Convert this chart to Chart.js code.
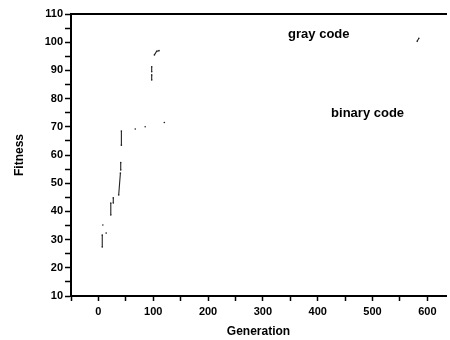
<!DOCTYPE html>
<html>
<head>
<meta charset="utf-8">
<script src="https://cdn.jsdelivr.net/npm/chart.js@4.4.1/dist/chart.umd.min.js"></script>
<style>
  html, body { margin:0; padding:0; background:#fff; }
  #wrap { width:450px; height:340px; }
</style>
</head>
<body>
<div id="wrap"><canvas id="chart" width="450" height="340"></canvas></div>
<script>
// fitness vs generation (null = gap between visible fragments)
const binaryGen = [7, 7, null, 8.1, null, 14.1, null, 22.6, 22.6, null, 27.1, 27.1, null, 37, 40.1, null, 40.7, 40.7, null, 41.9, 41.9, null, 67.2, null, 85.3, null, 120.2];
const binaryFit = [27.4, 31.6, null, 35.2, null, 32.3, null, 38.7, 43.0, null, 43.0, 44.8, null, 45.8, 53.6, null, 54.7, 57.3, null, 63.5, 68.5, null, 69.2, null, 70.0, null, 71.5];
const grayGen = [97.2, 97.2, null, 97.2, 97.2, null, 102.1, 106.3, 110.6, null, 581.4, 584.5];
const grayFit = [86.6, 88.4, null, 89.5, 91.3, null, 95.5, 96.8, 97.0, null, 100.3, 101.4];

const labelText = ['gray code', 'binary code'];
const labelGen = [402, 491];
const labelFit = [101.5, 73.6];

const toPts = (xs, ys) => xs.map((x, i) => ({ x: x, y: ys[i] }));

const font = 'Liberation Sans, Arial, sans-serif';

const curveLabels = {
  id: 'curveLabels',
  afterDatasetsDraw(chart){
    const { ctx, scales } = chart;
    ctx.save();
    ctx.fillStyle = '#000';
    ctx.font = 'bold 13px ' + font;
    ctx.textAlign = 'center';
    ctx.textBaseline = 'alphabetic';
    labelText.forEach((t, i) => {
      ctx.fillText(t, scales.x.getPixelForValue(labelGen[i]), scales.y.getPixelForValue(labelFit[i]));
    });
    ctx.restore();
  }
};

const lineStyle = { showLine:true, spanGaps:false, borderColor:'#222', borderWidth:1.1, pointRadius:0.8, pointBorderWidth:0, pointBackgroundColor:'#222', tension:0 };

new Chart(document.getElementById('chart'), {
  type: 'scatter',
  data: { datasets: [
    Object.assign({ label:'binary code', data: toPts(binaryGen, binaryFit) }, lineStyle),
    Object.assign({ label:'gray code', data: toPts(grayGen, grayFit) }, lineStyle)
  ]},
  options: {
    responsive:false,
    animation:false,
    layout:{ padding:{ top:14, left:0, right:0, bottom:0 } },
    plugins:{ legend:{ display:false }, tooltip:{ enabled:false } },
    scales:{
      x:{
        type:'linear', min:-50, max:634,
        afterFit(s){ s.height = 44; },
        ticks:{ stepSize:50, includeBounds:false, autoSkip:false, maxRotation:0, padding:4, color:'#000',
          font:{ family:font, size:11, weight:'bold' },
          callback:(v)=> v % 100 === 0 ? v : '' },
        grid:{ drawOnChartArea:false, drawTicks:true, tickLength:5, tickColor:'#000', tickWidth:1.5 },
        border:{ color:'#000', width:2 },
        title:{ display:true, text:'Generation', color:'#000', padding:{ top:0, bottom:1 },
          font:{ family:font, size:12, weight:'bold' } }
      },
      xTop:{
        type:'linear', position:'top', min:-50, max:634,
        afterFit(s){ s.height = 0; },
        ticks:{ display:false },
        grid:{ display:false, drawTicks:false },
        border:{ display:true, color:'#000', width:2 }
      },
      y:{
        type:'linear', min:10, max:110,
        afterFit(s){ s.width = 71; },
        ticks:{ stepSize:5, autoSkip:false, padding:2, color:'#000',
          font:{ family:font, size:11, weight:'bold' },
          callback:(v)=> v % 10 === 0 ? v : '' },
        grid:{ drawOnChartArea:false, drawTicks:true, tickLength:6, tickColor:'#000', tickWidth:1.5 },
        border:{ color:'#000', width:2 },
        title:{ display:true, text:'Fitness', color:'#000', padding:{ top:12, bottom:0 },
          font:{ family:font, size:12, weight:'bold' } }
      }
    }
  },
  plugins:[curveLabels]
});
</script>
</body>
</html>
